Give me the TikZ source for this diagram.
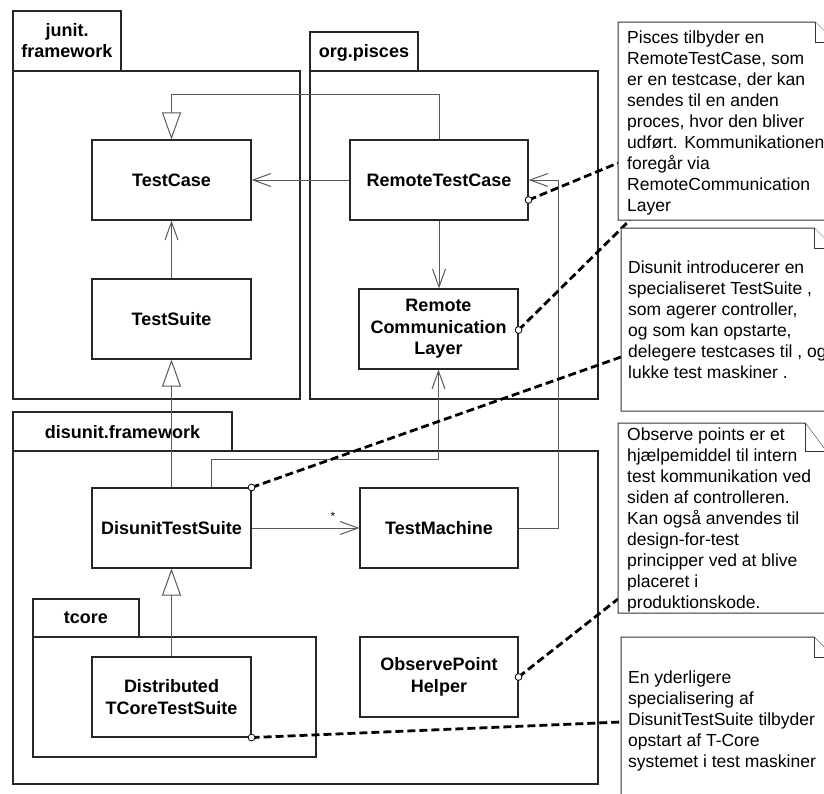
\documentclass[tikz,border=0pt]{standalone}
\usepackage{fontspec}
\setmainfont{Liberation Sans}
\usetikzlibrary{arrows.meta}
\newcommand\tstr{\rule{0pt}{15pt}}
\begin{document}
\begin{tikzpicture}[x=1pt,y=-1pt,
  pkg/.style={draw=black!85, line width=1.1pt},
  cls/.style={draw=black!85, line width=1.1pt, fill=white, minimum height=80pt, align=center,
    font=\bfseries\fontsize{18}{21.5}\selectfont, inner sep=0pt},
  lbl/.style={font=\bfseries\fontsize{18}{21}\selectfont, align=center, inner sep=0pt},
  conn/.style={draw=black!65, line width=1pt},
  assoc/.style={conn, -{Straight Barb[length=18pt,width=13pt]}},
  inh/.style={conn, -{Triangle[open,length=27pt,width=19pt,fill=white]}},
  link/.style={draw=black, line width=2.8pt, dash pattern=on 8pt off 4pt},
  knob/.style={draw=black, line width=0.8pt, fill=white},
  notebox/.style={draw=black!80, line width=1pt, fill=white, line join=miter},
  notetxt/.style={font=\fontsize{17.5}{21}\selectfont, align=left, anchor=north west, inner sep=0pt},
]
\useasboundingbox (0,0) rectangle (824,793);
\fill[white] (0,0) rectangle (824,793);
\clip (0,0) rectangle (824,793);

% ---------- packages ----------
\draw[pkg] (13,11) rectangle (121,71);
\draw[pkg] (13,71) rectangle (300,399);
\node[lbl, anchor=north] (pj) at (67,21) {\tstr junit.\\framework};

\draw[pkg] (310,32) rectangle (418,71);
\draw[pkg] (310,71) rectangle (598,399);
\node[lbl, anchor=base] (po) at (364,57) {org.pisces};

\draw[pkg] (13,412) rectangle (232,451);
\draw[pkg] (13,451) rectangle (598,784);
\node[lbl, anchor=base] (pd) at (122.5,438) {disunit.framework};

\draw[pkg] (33,599) rectangle (139,637);
\draw[pkg] (33,637) rectangle (316,757);
\node[lbl, anchor=base] (pt) at (86,623) {tcore};

% ---------- classes ----------
\node[cls, minimum width=159pt] (tc) at (171.5,180) {TestCase};
\node[cls, minimum width=159pt] (ts) at (171.5,319) {TestSuite};
\node[cls, minimum width=178pt] (rtc) at (439,180) {RemoteTestCase};
\node[cls, minimum width=159pt] (rcl) at (438.5,329) {Remote\\Communication\\Layer};
\node[cls, minimum width=159pt] (dts) at (171.5,528) {DisunitTestSuite};
\node[cls, minimum width=158pt] (tm) at (439,528) {TestMachine};
\node[cls, minimum width=159pt] (dtc) at (171.5,697) {Distributed\\TCoreTestSuite};
\node[cls, minimum width=158pt] (oph) at (439,677) {ObservePoint\\Helper};

% ---------- connectors ----------
\coordinate (b1) at (171.5,94);
\coordinate (b2) at (211,459);
\coordinate (b3) at (558,180);
\draw[inh] (rtc.north) |- (b1) -- (tc.north);
\draw[assoc] (rtc.west) -- (tc.east);
\draw[assoc] (rtc.south) -- (rtc.south |- rcl.north);
\draw[assoc] (ts.north) -- (tc.south);
\draw[inh] (dts.north) -- (ts.south);
\draw[assoc] (dts.north -| b2) -- (b2) -| (rcl.south);
\draw[assoc] (dts.east) -- (tm.west);
\node[font=\fontsize{12}{12}\selectfont, anchor=base, inner sep=0pt] (star) at (333,520) {*};
\draw[assoc] (tm.east) -| (b3) -- (rtc.east);
\draw[inh] (dtc.north) -- (dts.south);

% ---------- note links ----------
\coordinate (k1) at ([yshift=-20pt]rtc.east);
\coordinate (k2) at ([yshift=-1pt]rcl.east);
\coordinate (k3) at (dts.north east);
\coordinate (k4) at (oph.east);
\coordinate (k5) at (dtc.south east);
\coordinate (e1) at (618,163);
\coordinate (e2) at (630,220);
\coordinate (e3) at (621,357);
\coordinate (e4) at (618,599);
\coordinate (e5) at (621,722);
\draw[link] (k1) -- (e1);
\draw[link] (k2) -- (e2);
\draw[link] (k3) -- (e3);
\draw[link] (k4) -- (e4);
\draw[link] (k5) -- (e5);
\foreach \k in {k1,k2,k3,k4,k5} \draw[knob] (\k) circle[radius=3.4pt];

% ---------- notes ----------
\draw[notebox] (618,22) -- (815,22) -- (835,42) -- (835,220) -- (618,220) -- cycle;
\draw[notebox] (815,22) -- (815,42) -- (835,42);
\node[notetxt] (n1) at (627,28) {\tstr Pisces tilbyder en\\RemoteTestCase, som\\er en testcase, der kan\\sendes til en anden\\proces, hvor den bliver\\udført. Kommunikationen\\foregår via\\RemoteCommunication\\Layer};

\draw[notebox] (621,228) -- (814,228) -- (834,248) -- (834,411) -- (621,411) -- cycle;
\draw[notebox] (814,228) -- (814,248) -- (834,248);
\node[notetxt] (n2) at (628,258) {\tstr Disunit introducerer en\\specialiseret TestSuite ,\\som agerer controller,\\og som kan opstarte,\\delegere testcases til , og\\lukke test maskiner .};

\draw[notebox] (618,423) -- (805,423) -- (826,451) -- (826,613) -- (618,613) -- cycle;
\draw[notebox] (805,423) -- (805,451) -- (826,451);
\node[notetxt] (n3) at (627,425) {\tstr Observe points er et\\hjælpemiddel til intern\\test kommunikation ved\\siden af controlleren.\\Kan også anvendes til\\design-for-test\\principper ved at blive\\placeret i\\produktionskode.};

\draw[notebox] (621,637) -- (814,637) -- (834,657) -- (834,810) -- (621,810) -- cycle;
\draw[notebox] (814,637) -- (814,657) -- (834,657);
\node[notetxt] (n4) at (628,668) {\tstr En yderligere\\specialisering af\\DisunitTestSuite tilbyder\\opstart af T-Core\\systemet i test maskiner};
\end{tikzpicture}
\end{document}
